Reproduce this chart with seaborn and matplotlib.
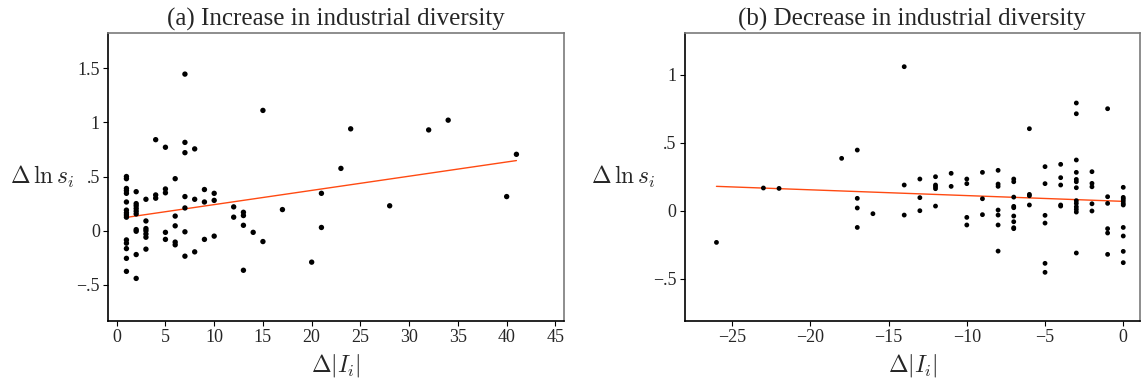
import numpy as np
import pandas as pd
import matplotlib
matplotlib.use("Agg")
import matplotlib.pyplot as plt
import seaborn as sns

# ---------------- data ----------------
# (a) increase in industrial diversity: x level -> list of y values
inc_levels = [1, 2, 3, 4, 5, 6, 7, 8, 9, 10, 12, 13, 14, 15, 17, 20, 21, 23, 24, 28, 32, 34, 40, 41]
inc_values = [
    [0.50, 0.48, 0.39, 0.37, 0.345, 0.265, 0.19, 0.165, 0.145, 0.125, -0.085, -0.115, -0.165, -0.255, -0.375],
    [0.36, 0.25, 0.23, 0.205, 0.18, 0.155, 0.01, -0.005, -0.22, -0.44],
    [0.29, 0.09, 0.02, 0.0, -0.03, -0.06, -0.17],
    [0.84, 0.33, 0.30],
    [0.77, 0.385, 0.35, -0.015, -0.08],
    [0.48, 0.135, 0.045, -0.105, -0.13],
    [1.445, 0.815, 0.72, 0.315, 0.21, -0.01, -0.235],
    [0.755, 0.29, -0.195],
    [0.38, 0.265, -0.08],
    [0.345, 0.28, -0.05],
    [0.22, 0.125],
    [0.17, 0.14, 0.05, -0.365],
    [-0.015],
    [1.11, -0.10],
    [0.195],
    [-0.29],
    [0.345, 0.03],
    [0.575],
    [0.94],
    [0.23],
    [0.93],
    [1.02],
    [0.315],
    [0.705],
]

# (b) decrease in industrial diversity
dec_levels = [-26, -23, -22, -18, -17, -16, -14, -13, -12, -11, -10, -9, -8, -7, -6, -5, -4, -3, -2, -1, 0]
dec_values = [
    [-0.233],
    [0.167],
    [0.164],
    [0.385],
    [0.446, 0.091, 0.02, -0.123],
    [-0.022],
    [1.059, 0.189, -0.032],
    [0.233, 0.096, 0.0],
    [0.25, 0.189, 0.176, 0.162, 0.034],
    [0.275, 0.179],
    [0.233, 0.199, -0.049, -0.105],
    [0.282, 0.088, -0.029],
    [0.297, 0.196, 0.179, 0.005, -0.032, -0.105, -0.297],
    [0.233, 0.213, 0.1, 0.032, 0.022, -0.039, -0.081, -0.125, -0.132],
    [0.603, 0.12, 0.11, 0.042],
    [0.324, 0.199, -0.034, -0.091, -0.387, -0.453],
    [0.341, 0.243, 0.189, 0.042, 0.034],
    [0.792, 0.713, 0.373, 0.282, 0.23, 0.213, 0.169, 0.074, 0.054, 0.029, 0.01, -0.01, -0.311],
    [0.287, 0.201, 0.176, 0.051, -0.002],
    [0.75, 0.103, 0.054, -0.132, -0.164, -0.321],
    [0.172, 0.098, 0.086, 0.071, 0.054, 0.042, -0.123, -0.186, -0.299, -0.382],
]

titles = ["(a) Increase in industrial diversity", "(b) Decrease in industrial diversity"]
xlabel = r"$\Delta|I_i|$"
ylabel = r"$\Delta\,\ln s_i$"

inc_xticks = [0, 5, 10, 15, 20, 25, 30, 35, 40, 45]
inc_xticklabels = ["0", "5", "10", "15", "20", "25", "30", "35", "40", "45"]
inc_yticks = [1.5, 1.0, 0.5, 0.0, -0.5]
inc_yticklabels = ["1.5", "1", ".5", "0", "\u2212.5"]

dec_xticks = [-25, -20, -15, -10, -5, 0]
dec_xticklabels = ["\u221225", "\u221220", "\u221215", "\u221210", "\u22125", "0"]
dec_yticks = [1.0, 0.5, 0.0, -0.5]
dec_yticklabels = ["1", ".5", "0", "\u2212.5"]


def expand(levels, values):
    xs, ys = [], []
    for lv, vals in zip(levels, values):
        for v in vals:
            xs.append(lv)
            ys.append(v)
    return pd.DataFrame({"x": xs, "y": ys})


df_inc = expand(inc_levels, inc_values)
df_dec = expand(dec_levels, dec_values)

# ---------------- style ----------------
sns.set_style("white")
plt.rcParams["font.family"] = ["Liberation Serif", "DejaVu Serif"]
plt.rcParams["mathtext.fontset"] = "cm"
plt.rcParams["axes.unicode_minus"] = True

W, H = 1146, 389
fig = plt.figure(figsize=(W / 100, H / 100), dpi=100)

ax_a = fig.add_axes([108.3 / W, 1 - 321 / H, (563.7 - 108.3) / W, (321 - 32.7) / H])
ax_b = fig.add_axes([684.7 / W, 1 - 321 / H, (1140 - 684.7) / W, (321 - 32.7) / H])

line_color = "#FF4A12"

panels = [
    (ax_a, df_inc, titles[0], (-0.86, 45.85), (-0.833, 1.827),
     inc_xticks, inc_xticklabels, inc_yticks, inc_yticklabels, -0.075, 15),
    (ax_b, df_dec, titles[1], (-28.03, 1.07), (-0.811, 1.309),
     dec_xticks, dec_xticklabels, dec_yticks, dec_yticklabels, -0.065, 12),
]

for ax, df, title, xl, yl, xt, xtl, yt, ytl, ylab_x, msize in panels:
    sns.regplot(data=df, x="x", y="y", ax=ax, scatter=False, ci=None,
                line_kws=dict(color=line_color, lw=1.0))
    sns.scatterplot(data=df, x="x", y="y", ax=ax, color="black", s=msize,
                    edgecolor="none", linewidth=0, zorder=3)
    ax.set_xlim(*xl)
    ax.set_ylim(*yl)
    ax.set_xticks(xt, xtl)
    ax.set_yticks(yt, ytl)
    ax.tick_params(axis="both", which="major", direction="out", length=3.5,
                   width=0.8, color="black", labelsize=13, pad=2.5,
                   bottom=True, left=True, top=False, right=False)
    ax.set_title(title, fontsize=18, pad=5)
    ax.set_xlabel(xlabel, fontsize=17)
    ax.xaxis.set_label_coords(0.5, -0.153)
    ax.xaxis.label.set_va("center")
    ax.set_ylabel(ylabel, fontsize=17, rotation=0, ha="right", va="center")
    ax.yaxis.set_label_coords(ylab_x, 0.5)
    for side in ["left", "bottom"]:
        ax.spines[side].set_color("black")
        ax.spines[side].set_linewidth(1.2)
    for side in ["top", "right"]:
        ax.spines[side].set_color("#7a7a7a")
        ax.spines[side].set_linewidth(1.2)
    ax.grid(False)

fig.savefig("out.png", dpi=100)
